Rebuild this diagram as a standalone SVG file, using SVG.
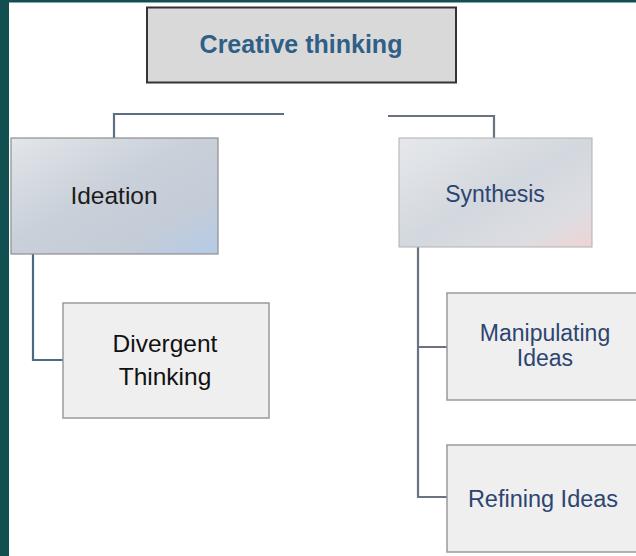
<svg xmlns="http://www.w3.org/2000/svg" width="636" height="556" viewBox="0 0 636 556">
<defs>
<linearGradient id="gIdea" x1="0" y1="0" x2="1" y2="1">
<stop offset="0" stop-color="#e3e6ea"/>
<stop offset="0.45" stop-color="#c9d0d9"/>
<stop offset="0.75" stop-color="#c4ccd8"/>
<stop offset="1" stop-color="#b4cbe8"/>
</linearGradient>
<linearGradient id="gSyn" x1="0" y1="0" x2="1" y2="1">
<stop offset="0" stop-color="#e6e8eb"/>
<stop offset="0.5" stop-color="#d3d8de"/>
<stop offset="0.8" stop-color="#dcdde2"/>
<stop offset="1" stop-color="#f0d3d3"/>
</linearGradient>
<style>
.sub{fill:#efefef;stroke:#9a9a9a;stroke-width:1.5}
.t{font-family:"Liberation Sans",Arial,sans-serif;text-anchor:middle}
.conn{fill:none;stroke-width:2.2}
</style>
</defs>
<rect x="0" y="0" width="636" height="556" fill="#ffffff"/>
<rect x="0" y="0" width="636" height="2.5" fill="#124f50"/>
<rect x="0" y="0" width="9" height="556" fill="#124f50"/>
<g id="connectors">
<path class="conn" stroke="#5b7083" d="M284 114 H114 V138"/>
<path class="conn" stroke="#6b7280" stroke-width="2.6" d="M388 116 H494 V138"/>
<path class="conn" stroke="#4c6a84" d="M33 254 V360 H63"/>
<path class="conn" stroke="#6b7280" stroke-width="2.6" d="M418 247 V497 H447 M418 347 H447"/>
</g>
<g id="creative-thinking">
<rect x="147" y="7.5" width="309" height="75" fill="#d9d9d9" stroke="#333333" stroke-width="2"/>
<text class="t" x="301" y="53" font-size="25" font-weight="bold" fill="#2f5f86">Creative thinking</text>
</g>
<g id="ideation">
<rect x="11" y="138" width="207" height="116" fill="url(#gIdea)" stroke="#8e8e8e" stroke-width="1.2"/>
<text class="t" x="114" y="204" font-size="24.5" fill="#1c1c1c">Ideation</text>
</g>
<g id="divergent-thinking">
<rect class="sub" x="63" y="303" width="206" height="115"/>
<text class="t" x="165" y="352" font-size="24.5" fill="#111">Divergent</text>
<text class="t" x="165" y="385" font-size="24.5" fill="#111">Thinking</text>
</g>
<g id="synthesis">
<rect x="399" y="138" width="193" height="109" fill="url(#gSyn)" stroke="#b0b0b0" stroke-width="1"/>
<text class="t" x="495" y="202" font-size="23" fill="#2d4570">Synthesis</text>
</g>
<g id="manipulating-ideas">
<rect class="sub" x="447" y="293" width="195" height="107"/>
<text class="t" x="545" y="341" font-size="23" fill="#2d4570">Manipulating</text>
<text class="t" x="545" y="366" font-size="23" fill="#2d4570">Ideas</text>
</g>
<g id="refining-ideas">
<rect class="sub" x="447" y="445" width="195" height="107"/>
<text class="t" x="543" y="507" font-size="23.5" fill="#2d4570">Refining Ideas</text>
</g>
</svg>
